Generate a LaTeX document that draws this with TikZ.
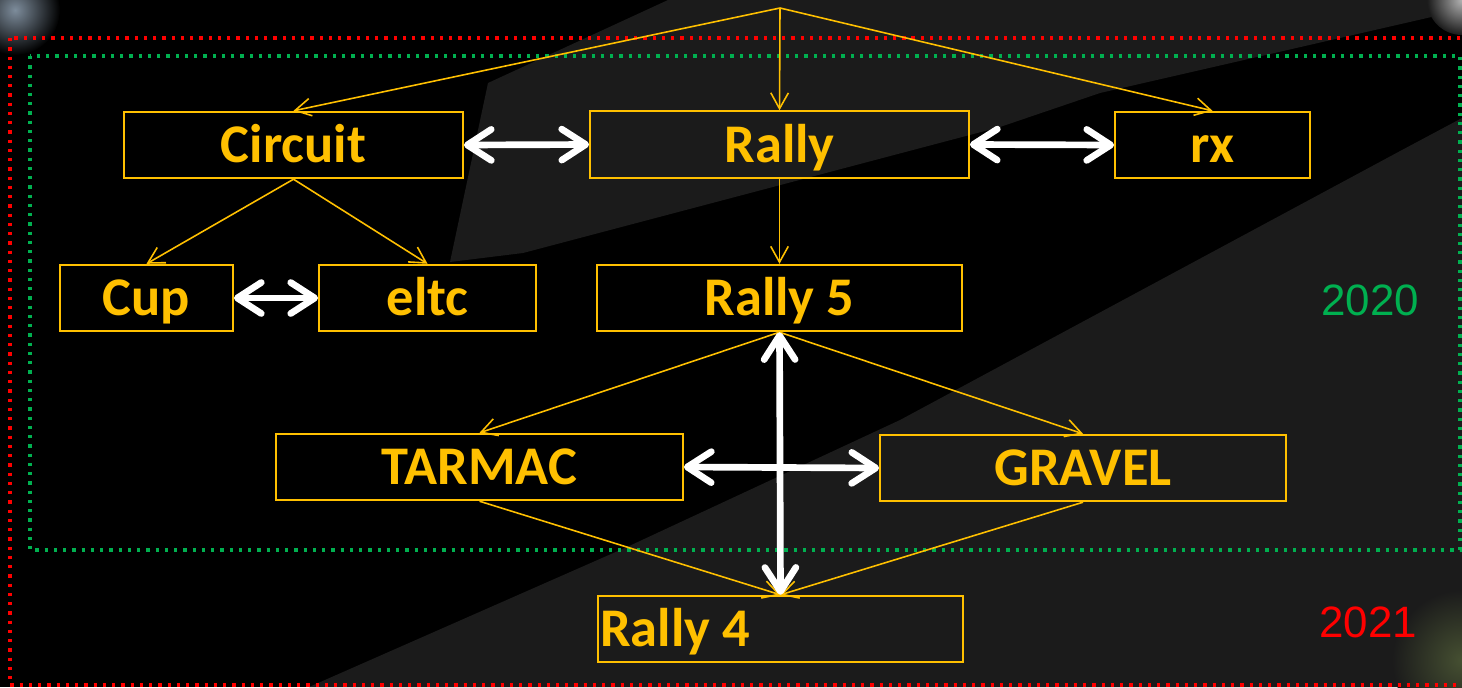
\documentclass[tikz,border=0pt]{standalone}
\usepackage{fontspec}
\setmainfont{Carlito}
\newfontfamily\yearfont{Liberation Sans}
\usetikzlibrary{arrows.meta}
\definecolor{boxyellow}{HTML}{FFC000}
\definecolor{yeargreen}{HTML}{00B050}
\definecolor{yearred}{HTML}{FF0000}
\definecolor{bandgray}{HTML}{1B1B1B}
\tikzset{
  box/.style={draw=boxyellow, line width=1.1pt, text=boxyellow,
    font=\fontsize{31}{36}\selectfont\bfseries, inner sep=0pt,
    text height=20pt, text depth=0pt, minimum height=1.33cm},
  feed/.style={draw=boxyellow, line width=0.9pt, -{Straight Barb[length=9pt,width=10pt]}},
  link/.style={draw=white, line width=3.8pt, line cap=round,
    {Straight Barb[length=0.48cm,width=0.62cm,round]}-{Straight Barb[length=0.48cm,width=0.62cm,round]}},
  frame/.style={line width=0.065cm, dash pattern=on 0.065cm off 0.12cm},
  year/.style={font=\yearfont\fontsize{25}{30}\selectfont},
}
\begin{document}
\begin{tikzpicture}[x=0.02cm,y=-0.02cm]
  \useasboundingbox (0,0) rectangle (1462,687);
  \clip (0,0) rectangle (1462,687);
  % background photo, roughly
  \fill[black] (0,0) rectangle (1462,687);
  \fill[bandgray] (668,0) -- (1462,0) -- (1462,10) -- (1100,93) -- (1000,127)
    -- (523,253) -- (450,262) -- (488,83) -- cycle;
  \fill[bandgray] (1462,118) -- (1402,150) -- (900,420) -- (627,547) -- (309,687)
    -- (1462,687) -- cycle;
  \shade[inner color={rgb,255:red,125;green,140;blue,155}, outer color=black] (15,10) circle [radius=45];
  \shade[inner color=gray!60, outer color=bandgray] (1462,0) circle [radius=35];
  \shade[inner color={rgb,255:red,70;green,80;blue,50}, outer color=bandgray] (1462,660) circle [radius=70];

  % year frames
  \draw[frame, yearred] (10,38) rectangle (1480,685);
  \draw[frame, yeargreen] (30,56) rectangle (1460,550);
  \node[year, text=yeargreen] (y2020) at (1370,300) {2020};
  \node[year, text=yearred] (y2021) at (1368,622) {2021};

  % boxes
  \coordinate (top) at (780,8);
  \node[box, minimum width=6.78cm] (circuit) at (293.5,145) {Circuit};
  \node[box, minimum width=7.58cm] (rally) at (779.5,144.5) {Rally};
  \node[box, minimum width=3.9cm] (rx) at (1212.5,145) {rx};
  \node[box, minimum width=3.46cm] (cup) at (146.5,298) {Cup};
  \node[box, minimum width=4.34cm] (eltc) at (427.5,298) {eltc};
  \node[box, minimum width=7.3cm] (rally5) at (779.5,298) {Rally 5};
  \node[box, minimum width=8.14cm] (tarmac) at (479.5,467) {TARMAC};
  \node[box, minimum width=8.12cm] (gravel) at (1083,468) {GRAVEL};
  \node[box, inner xsep=0.04cm, text width=7.22cm, align=left] (rally4) at (780.5,629) {\spaceskip=0pt\relax Rally 4};

  % thin arrows
  \draw[feed] (top) -- (circuit.north);
  \draw[feed] (top) -- (rally.north);
  \draw[feed] (top) -- (rx.north);
  \draw[feed] (circuit.south) -- (cup.north);
  \draw[feed] (circuit.south) -- (eltc.north);
  \draw[feed] (rally.south) -- (rally5.north);
  \draw[feed] (rally5.south) -- (tarmac.north);
  \draw[feed] (rally5.south) -- (gravel.north);
  \draw[feed] (tarmac.south) -- (rally4.north);
  \draw[feed] (gravel.south) -- (rally4.north);

  % white links
  \draw[link] (circuit.east) -- (rally.west);
  \draw[link] (rally.east) -- (rx.west);
  \draw[link] (cup.east) -- (eltc.west);
  \draw[link] (tarmac.east) -- (gravel.west);
  \draw[link] (rally5.south) -- (rally4.north);
\end{tikzpicture}
\end{document}
